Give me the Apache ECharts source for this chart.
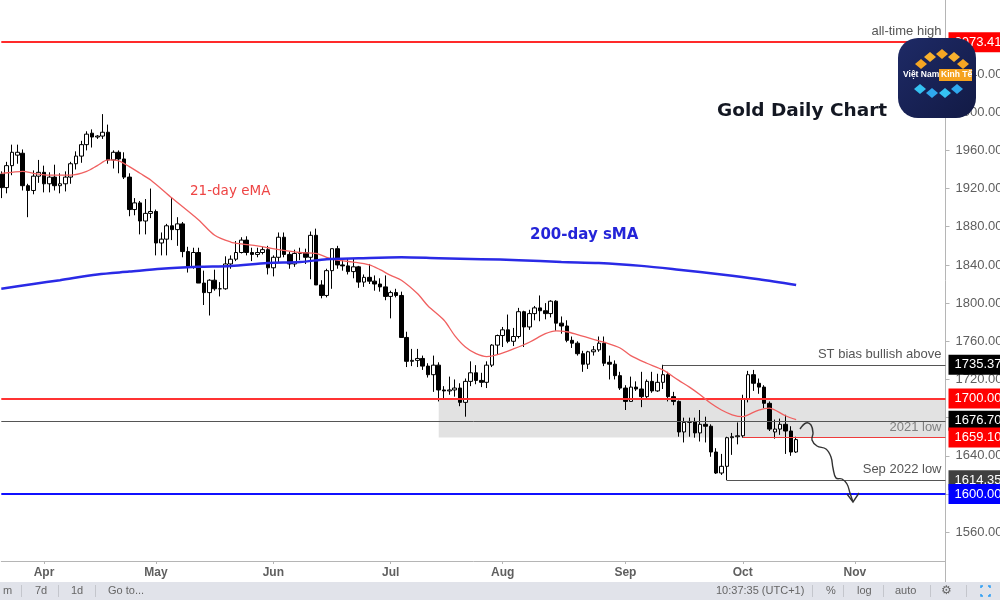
<!DOCTYPE html>
<html>
<head>
<meta charset="utf-8">
<script src="https://cdn.jsdelivr.net/npm/echarts@6.0.0/dist/echarts.min.js"></script>
<style>
html,body{margin:0;padding:0;background:#fff;}
#chart{width:1000px;height:600px;}
</style>
</head>
<body>
<div id="chart"></div>
<script>
// ---------- DATA ----------
const startDate = '2022-03-22';      // first trading day shown
const categoryCount = 178;            // weekdays on the time axis (to 2022-11-24)
const monthNames = ['Jan','Feb','Mar','Apr','May','Jun','Jul','Aug','Sep','Oct','Nov','Dec'];

// daily candles [open, high, low, close], one per weekday from startDate
const ohlc = [
// Mar 22-31
[1935,1938,1910,1921],[1921,1948,1915,1944],[1944,1966,1934,1958],[1955,1966,1946,1958],
[1957,1961,1918,1923],[1923,1925,1890,1918],[1918,1939,1914,1933],[1933,1950,1926,1937],
// Apr
[1937,1944,1916,1925],[1925,1937,1916,1932],[1932,1945,1918,1923],[1923,1936,1915,1925],
[1925,1938,1917,1932],[1932,1948,1925,1946],[1946,1959,1940,1954],[1954,1970,1947,1966],
[1966,1980,1960,1977],[1978,1982,1963,1974],[1974,1976,1972,1975],[1975,1998,1972,1979],
[1979,1987,1946,1950],[1950,1960,1941,1958],[1958,1960,1936,1951],[1951,1958,1930,1932],
[1932,1936,1891,1898],[1898,1910,1892,1905],[1905,1907,1872,1886],[1886,1909,1872,1894],
[1894,1920,1889,1896],
// May
[1896,1898,1850,1863],[1863,1874,1850,1867],[1867,1883,1850,1881],[1881,1910,1866,1877],
[1877,1890,1860,1883],[1883,1885,1848,1854],[1854,1859,1832,1838],[1838,1858,1836,1853],
[1853,1858,1821,1821],[1821,1834,1798,1811],[1811,1825,1787,1824],[1824,1835,1813,1815],
[1815,1822,1807,1815],[1815,1849,1814,1841],[1841,1850,1836,1846],[1846,1865,1844,1853],
[1853,1869,1852,1866],[1866,1870,1850,1853],[1853,1858,1844,1851],[1851,1858,1848,1853],
[1853,1859,1851,1856],[1856,1860,1830,1837],
// Jun
[1837,1850,1828,1848],[1848,1874,1843,1869],[1869,1874,1848,1851],[1851,1854,1836,1841],
[1841,1856,1838,1852],[1852,1858,1845,1853],[1853,1857,1841,1848],[1848,1875,1825,1871],
[1871,1878,1819,1819],[1819,1824,1805,1808],[1808,1836,1806,1834],[1834,1857,1815,1857],
[1857,1860,1836,1840],[1840,1845,1834,1839],[1839,1847,1830,1833],[1833,1847,1826,1838],
[1838,1839,1816,1822],[1822,1830,1817,1827],[1827,1841,1820,1823],[1823,1829,1813,1820],
[1820,1826,1812,1817],[1817,1829,1803,1807],
// Jul
[1807,1813,1784,1811],[1811,1815,1806,1808],[1808,1812,1764,1764],[1764,1770,1733,1739],
[1739,1752,1734,1740],[1740,1752,1733,1742],[1742,1745,1730,1734],[1734,1737,1722,1725],
[1725,1745,1707,1735],[1735,1738,1697,1709],[1709,1713,1700,1708],[1708,1723,1704,1709],
[1709,1720,1702,1711],[1711,1716,1692,1696],[1696,1721,1681,1718],[1718,1739,1713,1727],
[1727,1735,1715,1719],[1719,1727,1712,1717],[1717,1739,1711,1735],[1735,1757,1733,1756],
[1756,1767,1746,1766],
// Aug
[1766,1775,1754,1772],[1772,1788,1758,1760],[1760,1774,1755,1765],[1765,1795,1763,1791],
[1791,1792,1754,1775],[1775,1793,1772,1789],[1789,1797,1782,1795],[1795,1808,1781,1792],
[1792,1800,1783,1789],[1789,1803,1785,1802],[1802,1803,1771,1779],[1779,1786,1768,1776],
[1776,1782,1759,1761],[1761,1765,1753,1758],[1758,1760,1745,1747],[1747,1750,1728,1736],
[1736,1750,1731,1749],[1749,1755,1745,1751],[1751,1765,1749,1758],[1758,1765,1734,1737],
[1738,1745,1720,1736],[1736,1740,1720,1724],[1724,1728,1709,1711],
// Sep
[1711,1714,1688,1697],[1697,1723,1697,1712],[1712,1718,1708,1710],[1710,1728,1691,1702],
[1702,1720,1700,1718],[1718,1728,1706,1708],[1708,1726,1707,1717],[1717,1735.37,1710,1725],
[1725,1728,1697,1702],[1702,1707,1693,1697],[1697,1698,1660,1665],[1665,1680,1654,1675],
[1675,1680,1660,1676],[1676,1680,1659,1664],[1664,1688,1655,1673],[1673,1681,1654,1671],
[1671,1673,1639,1644],[1644,1648,1621,1622],[1622,1642,1620,1629],[1629,1660,1614.35,1659],
[1659,1664,1641,1660],[1660,1675,1652,1661],
// Oct 3-17
[1661,1704,1659,1699],[1699,1729,1696,1725],[1725,1730,1708,1716],[1716,1721,1705,1712],
[1712,1714,1690,1695],[1695,1697,1666,1668],[1665,1678,1658,1668],[1668,1679,1662,1673],
[1673,1683,1642,1666],[1666,1671,1640,1644],[1644,1660,1643,1657]
];

// 21-day EMA: [category index], [value]
const emaIdx = [0,2,4,6,9,13,16,18,20,22,24,26,28,32,37,40,43,45,48,50,52,56,59,61,63,66,69,71,73,75,78,80,83,85,87,89,91,93,96,99,102,104,106,108,111,113,116,118,121,124,127,129,131,133,135,137,139,140,142,144,145,147,149];
const emaVal = [1936,1937,1938,1936,1934,1934,1938,1944,1950,1949,1943,1936,1929,1910,1887,1871,1864,1862,1860,1858,1856,1853,1852,1848,1845,1843,1840,1835,1829,1824,1810,1797,1782,1766,1754,1747,1744,1746,1752,1759,1768,1771,1770,1767,1762,1759,1753,1745,1737,1730,1719,1712,1704,1695,1688,1683,1681,1683,1688,1690,1688,1682,1678];

// 200-day SMA
const smaIdx = [0,6,11,18,24,30,37,43,50,56,61,67,75,82,90,97,105,112,120,127,135,142,149];
const smaVal = [1815,1820,1824,1830,1833,1836,1838,1839,1842,1843,1846,1847,1848,1847,1846,1845,1843,1842,1839,1835,1830,1825,1819];

// price axis
const yMin = 1529.81, yMax = 2117.55;
const priceLabels = [1560,1640,1720,1760,1800,1840,1880,1920,1960,2000,2040];
const priceTicks = [1560,1600,1640,1680,1720,1760,1800,1840,1880,1920,1960,2000,2040];

// key levels
const athLevel = 2073.41;
const stBiasLevel = 1735.37, stBiasStart = '2022-09-12';
const level1700 = 1700;
const level1676 = 1676.70;
const low2021 = 1659.10, low2021Start = '2022-10-03';
const sepLow = 1614.35, sepLowStart = '2022-09-28';
const level1600 = 1600;
const zoneStart = '2022-07-14';

// ---------- BUILD ----------
function weekdays(start, n) {
  const out = [];
  const d = new Date(start + 'T00:00:00Z');
  while (out.length < n) {
    const w = d.getUTCDay();
    if (w !== 0 && w !== 6) out.push(d.toISOString().slice(0, 10));
    d.setUTCDate(d.getUTCDate() + 1);
  }
  return out;
}
const dates = weekdays(startDate, categoryCount);
const lastDate = dates[dates.length - 1];
const isMonthStart = i => i > 0 && dates[i].slice(5, 7) !== dates[i - 1].slice(5, 7);
const candleData = ohlc.map(r => [r[0], r[3], r[2], r[1]]);
const emaData = emaIdx.map((k, i) => [k, emaVal[i]]);
const smaData = smaIdx.map((k, i) => [k, smaVal[i]]);

const FONT = 'Liberation Sans, Arial, sans-serif';
function box(text, bg) {
  return { show: true, position: 'end', distance: 3, formatter: text, color: '#fff',
    backgroundColor: bg, padding: [4, 4, 3, 6], fontSize: 13, fontFamily: FONT };
}
function note(text, color) {
  return { show: true, position: 'insideEndTop', distance: 4, formatter: text,
    color: color || '#555', fontSize: 13, fontFamily: FONT };
}
const hidden = { color: 'transparent', width: 1 };

const markLines = [
  { yAxis: athLevel, lineStyle: { color: '#ff2a2a', width: 2, type: 'solid' }, label: box('2073.41', '#ff0000') },
  { yAxis: athLevel, lineStyle: hidden, label: note('all-time high') },
  [{ coord: [stBiasStart, stBiasLevel], lineStyle: { color: '#555', width: 1, type: 'solid' }, label: note('ST bias bullish above') },
   { coord: [lastDate, stBiasLevel] }],
  { yAxis: stBiasLevel, lineStyle: hidden, label: box('1735.37', '#000000') },
  { yAxis: level1700, lineStyle: { color: '#ff3333', width: 2, type: 'solid' }, label: box('1700.00', '#ff0000') },
  { yAxis: level1676, lineStyle: { color: '#555', width: 1, type: 'solid' }, label: box('1676.70', '#000000') },
  [{ coord: [low2021Start, low2021], lineStyle: { color: '#ee3b3b', width: 1, type: 'solid' }, label: note('2021 low', '#808080') },
   { coord: [lastDate, low2021] }],
  { yAxis: low2021, lineStyle: hidden, label: box('1659.10', '#ff0000') },
  [{ coord: [sepLowStart, sepLow], lineStyle: { color: '#555', width: 1, type: 'solid' }, label: note('Sep 2022 low') },
   { coord: [lastDate, sepLow] }],
  { yAxis: sepLow, lineStyle: hidden, label: box('1614.35', '#404040') },
  { yAxis: level1600, lineStyle: { color: '#1010ff', width: 2, type: 'solid' }, label: box('1600.00', '#0000ff') }
];

function diamond(cx, cy, fill) {
  return { type: 'polygon', silent: true, z: 101,
    shape: { points: [[cx - 6, cy], [cx, cy - 5], [cx + 6, cy], [cx, cy + 5]] }, style: { fill: fill } };
}

const graphics = [
  // chart title & series labels
  { type: 'text', left: 717, top: 102, z: 50, style: { text: 'Gold Daily Chart', fill: '#131722', font: 'bold 18.5px DejaVu Sans' } },
  { type: 'text', left: 190, top: 184, z: 50, style: { text: '21-day eMA', fill: '#ee4444', font: '13.5px DejaVu Sans' } },
  { type: 'text', left: 530, top: 228, z: 50, style: { text: '200-day sMA', fill: '#2424d8', font: 'bold 15px DejaVu Sans' } },
  // axis continuation
  { type: 'line', silent: true, shape: { x1: 945.5, y1: 561, x2: 945.5, y2: 582 }, style: { stroke: '#b5b5b5', lineWidth: 1 } },
  // wavy projection arrow
  { type: 'polyline', silent: true, z: 60, shape: { smooth: 0.4, points: [[800,429],[806,423],[811,425],[813,433],[812,440],[817,446],[826,449],[831,457],[833,468],[836,478],[842,479],[847,484],[850,493],[853,502]] },
    style: { stroke: '#333', lineWidth: 1.4, fill: null } },
  { type: 'polyline', silent: true, z: 60, shape: { points: [[847,494],[853,502],[859,493]] }, style: { stroke: '#333', lineWidth: 1.4, fill: null } },
  // bottom toolbar
  { type: 'rect', silent: true, shape: { x: 0, y: 582, width: 1000, height: 18 }, style: { fill: '#e1e3ea' } },
  { type: 'group', silent: true, children: [
    { type: 'text', style: { text: 'm', x: 3, y: 591, fill: '#666', font: '11px ' + FONT, verticalAlign: 'middle' } },
    { type: 'line', shape: { x1: 21.5, y1: 585, x2: 21.5, y2: 597 }, style: { stroke: '#c4c6cc' } },
    { type: 'text', style: { text: '7d', x: 35, y: 591, fill: '#666', font: '11px ' + FONT, verticalAlign: 'middle' } },
    { type: 'line', shape: { x1: 58.5, y1: 585, x2: 58.5, y2: 597 }, style: { stroke: '#c4c6cc' } },
    { type: 'text', style: { text: '1d', x: 71, y: 591, fill: '#666', font: '11px ' + FONT, verticalAlign: 'middle' } },
    { type: 'line', shape: { x1: 95.5, y1: 585, x2: 95.5, y2: 597 }, style: { stroke: '#c4c6cc' } },
    { type: 'text', style: { text: 'Go to...', x: 108, y: 591, fill: '#666', font: '11px ' + FONT, verticalAlign: 'middle' } },
    { type: 'text', style: { text: '10:37:35 (UTC+1)', x: 716, y: 591, fill: '#666', font: '11px ' + FONT, verticalAlign: 'middle' } },
    { type: 'line', shape: { x1: 812.5, y1: 585, x2: 812.5, y2: 597 }, style: { stroke: '#c4c6cc' } },
    { type: 'text', style: { text: '%', x: 826, y: 591, fill: '#666', font: '11px ' + FONT, verticalAlign: 'middle' } },
    { type: 'line', shape: { x1: 843.5, y1: 585, x2: 843.5, y2: 597 }, style: { stroke: '#c4c6cc' } },
    { type: 'text', style: { text: 'log', x: 857, y: 591, fill: '#666', font: '11px ' + FONT, verticalAlign: 'middle' } },
    { type: 'line', shape: { x1: 883.5, y1: 585, x2: 883.5, y2: 597 }, style: { stroke: '#c4c6cc' } },
    { type: 'text', style: { text: 'auto', x: 895, y: 591, fill: '#666', font: '11px ' + FONT, verticalAlign: 'middle' } },
    { type: 'line', shape: { x1: 930.5, y1: 585, x2: 930.5, y2: 597 }, style: { stroke: '#c4c6cc' } },
    { type: 'text', style: { text: '⚙', x: 941, y: 591, fill: '#666', font: '12px DejaVu Sans', verticalAlign: 'middle' } },
    { type: 'line', shape: { x1: 966.5, y1: 585, x2: 966.5, y2: 597 }, style: { stroke: '#c4c6cc' } },
    { type: 'polyline', shape: { points: [[981,588],[981,586],[983,586]] }, style: { stroke: '#2a9df4', lineWidth: 1.5, fill: null } },
    { type: 'polyline', shape: { points: [[988,586],[990,586],[990,588]] }, style: { stroke: '#2a9df4', lineWidth: 1.5, fill: null } },
    { type: 'polyline', shape: { points: [[981,594],[981,596],[983,596]] }, style: { stroke: '#2a9df4', lineWidth: 1.5, fill: null } },
    { type: 'polyline', shape: { points: [[988,596],[990,596],[990,594]] }, style: { stroke: '#2a9df4', lineWidth: 1.5, fill: null } }
  ] },
  // watermark logo
  { type: 'rect', silent: true, z: 100, shape: { x: 898, y: 38, width: 78, height: 80, r: 20 },
    style: { fill: new echarts.graphic.LinearGradient(0, 0, 1, 1, [{ offset: 0, color: '#1e2a66' }, { offset: 1, color: '#121a45' }]) } },
  diamond(921, 64, '#f6a623'), diamond(930, 57, '#f8b12e'), diamond(942, 54, '#f6a623'), diamond(954, 57, '#f8b12e'), diamond(963, 64, '#f6a623'),
  diamond(920, 89, '#35c2f2'), diamond(932, 93, '#2fa8ee'), diamond(945, 93, '#35c2f2'), diamond(957, 89, '#2fa8ee'),
  { type: 'text', silent: true, z: 102, style: { text: 'Việt Nam', x: 903, y: 75, fill: '#fff', font: 'bold 8.5px ' + FONT, verticalAlign: 'middle' } },
  { type: 'rect', silent: true, z: 101, shape: { x: 939, y: 69, width: 33, height: 12 }, style: { fill: '#f5a21e' } },
  { type: 'text', silent: true, z: 102, style: { text: 'Kinh Tế', x: 941, y: 75, fill: '#fff', font: 'bold 8.5px ' + FONT, verticalAlign: 'middle' } }
];

const chart = echarts.init(document.getElementById('chart'), null, { renderer: 'canvas' });
chart.setOption({
  animation: false,
  backgroundColor: '#ffffff',
  grid: { left: 1.3, top: 0, width: 944.2, height: 561, containLabel: false, outerBoundsMode: 'none' },
  xAxis: {
    type: 'category', data: dates, boundaryGap: false,
    axisLine: { show: true, lineStyle: { color: '#b5b5b5' } },
    axisTick: { show: true, interval: (i) => isMonthStart(i), length: 3, lineStyle: { color: '#b5b5b5' } },
    axisLabel: { interval: (i) => isMonthStart(i),
      formatter: (v, i) => (isMonthStart(i) ? monthNames[+v.slice(5, 7) - 1] : ''),
      color: '#5f5f5f', fontSize: 12, fontWeight: 'bold', fontFamily: FONT, margin: 6, hideOverlap: false },
    splitLine: { show: false }
  },
  yAxis: {
    type: 'value', position: 'right', min: yMin, max: yMax,
    axisLine: { show: true, lineStyle: { color: '#b5b5b5' } },
    axisTick: { show: true, customValues: priceTicks, length: 4, lineStyle: { color: '#b5b5b5' } },
    axisLabel: { customValues: priceLabels, formatter: (v) => v.toFixed(2), color: '#5e5e5e', fontSize: 13, fontFamily: FONT, margin: 10 },
    splitLine: { show: false }
  },
  graphic: graphics,
  series: [
    {
      type: 'candlestick', data: candleData, barWidth: 4, z: 3,
      itemStyle: { color: '#ffffff', color0: '#000000', borderColor: '#000000', borderColor0: '#000000', borderWidth: 1 },
      markArea: {
        silent: true,
        itemStyle: { color: 'rgba(150,150,150,0.28)' },
        data: [[{ xAxis: zoneStart, yAxis: level1700 }, { xAxis: lastDate, yAxis: low2021 }]]
      },
      markLine: { silent: true, symbol: ['none', 'none'], animation: false, data: markLines }
    },
    {
      type: 'line', data: emaData, showSymbol: false, smooth: 0.3, z: 5, silent: true,
      lineStyle: { color: '#f06060', width: 1.3 }
    },
    {
      type: 'line', data: smaData, showSymbol: false, smooth: 0.3, z: 5, silent: true,
      lineStyle: { color: '#2a2ae6', width: 2.5 }
    }
  ]
});
</script>
</body>
</html>
